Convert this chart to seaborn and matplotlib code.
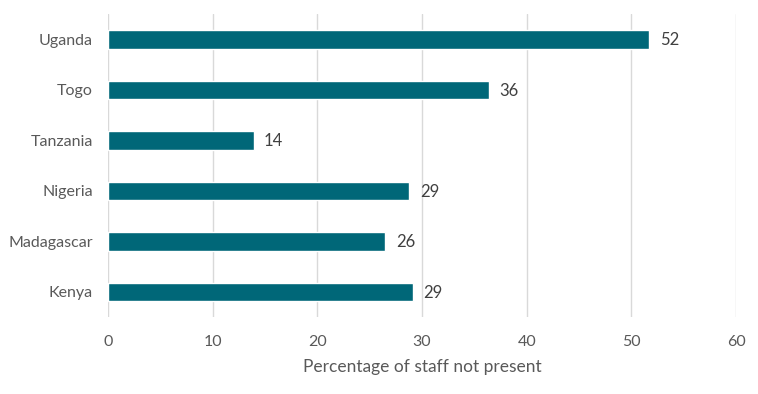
import pandas as pd
import seaborn as sns
from matplotlib import pyplot as plt

countries = ['Uganda', 'Togo', 'Tanzania', 'Nigeria', 'Madagascar', 'Kenya']
pct_absent = [51.7, 36.4, 13.9, 28.8, 26.5, 29.1]
shown = ['52', '36', '14', '29', '26', '29']

df = pd.DataFrame({'country': countries, 'pct': pct_absent})

sns.set_theme(style='white')
plt.rcParams['font.family'] = ['Lato', 'DejaVu Sans']

fig = plt.figure(figsize=(7.58, 3.94), dpi=100)
ax = fig.add_axes([0.1425, 0.195, 0.8285, 0.769])

sns.barplot(data=df, y='country', x='pct', color='#006778', saturation=1,
            width=0.36, ax=ax)

for i, (v, s) in enumerate(zip(pct_absent, shown)):
    ax.text(v + 1.0, i + 0.02, s, va='center', ha='left', fontsize=12, color='#404040')

ax.set_xlim(0, 60)
ax.set_xticks(range(0, 61, 10))
ax.grid(axis='x', color='#d9d9d9', linewidth=1)
ax.set_axisbelow(True)
for sp in ax.spines.values():
    sp.set_visible(False)
ax.tick_params(axis='both', length=0, labelsize=11.5, labelcolor='#595959')
ax.tick_params(axis='x', pad=13)
ax.tick_params(axis='y', pad=11)
ax.set_ylabel('')
ax.set_xlabel('Percentage of staff not present', fontsize=12.5, color='#595959', labelpad=7)

plt.savefig('out.png', dpi=100)
